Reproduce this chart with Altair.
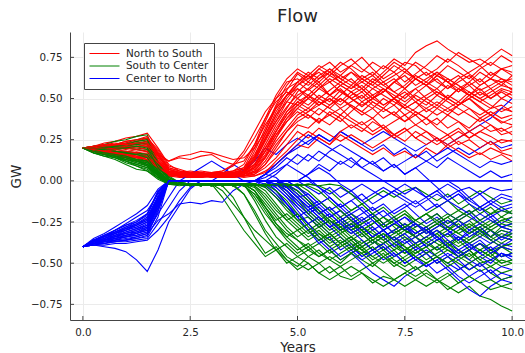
import altair as alt
import pandas as pd

TIMES = [0.0, 0.25, 0.5, 0.75, 1.0, 1.25, 1.5, 1.75, 2.0, 2.25, 2.5, 2.75, 3.0, 3.25,
         3.5, 3.75, 4.0, 4.25, 4.5, 4.75, 5.0, 5.25, 5.5, 5.75, 6.0, 6.25, 6.5, 6.75,
         7.0, 7.25, 7.5, 7.75, 8.0, 8.25, 8.5, 8.75, 9.0, 9.25, 9.5, 9.75, 10.0]

SERIES = ["North to South", "South to Center", "Center to North"]
COLORS = ["#ff0000", "#008000", "#0000ff"]

XTICKS = [0, 2.5, 5, 7.5, 10]
YTICKS = [-0.75, -0.5, -0.25, 0, 0.25, 0.5, 0.75]

RED_PATHS = [
    [0.2,0.21,0.23,0.24,0.26,0.27,0.29,0.2, 0.1,0.06,0.04,0.03,0.04,0.03,0.04,0.05, 0.12,0.25,0.38,0.5,0.58, 0.62,0.66,0.6,0.64,0.7,0.66,0.72,0.68,0.74,0.7,0.78,0.82,0.85,0.8,0.76,0.72,0.74,0.7,0.76,0.72],
    [0.2,0.19,0.18,0.17,0.16,0.15,0.13,0.08, 0.04,0.03,0.03,0.02,0.03,0.02,0.03,0.04, 0.08,0.18,0.3,0.42,0.5, 0.46,0.52,0.48,0.55,0.5,0.45,0.5,0.56,0.52,0.48,0.53,0.58,0.54,0.5,0.46,0.52,0.48,0.44,0.5,0.47],
    [0.2,0.2,0.21,0.22,0.24,0.25,0.27,0.17, 0.12,0.15,0.16,0.18,0.17,0.15,0.13,0.14, 0.2,0.3,0.45,0.55,0.65, 0.6,0.68,0.72,0.66,0.7,0.75,0.68,0.62,0.66,0.72,0.7,0.64,0.68,0.74,0.7,0.65,0.6,0.66,0.62,0.58],
    [0.2,0.18,0.17,0.15,0.14,0.13,0.12,0.07, 0.03,0.03,0.02,0.03,0.02,0.03,0.02,0.03, 0.04,0.1,0.2,0.3,0.36, 0.4,0.35,0.42,0.38,0.32,0.36,0.3,0.34,0.28,0.32,0.26,0.3,0.24,0.28,0.22,0.25,0.2,0.24,0.18,0.2],
    [0.2,0.19,0.19,0.18,0.18,0.17,0.16,0.1, 0.05,0.04,0.05,0.04,0.05,0.06,0.1,0.18, 0.3,0.42,0.5,0.56,0.6, 0.55,0.6,0.52,0.58,0.62,0.56,0.5,0.54,0.6,0.64,0.58,0.62,0.66,0.6,0.64,0.58,0.62,0.56,0.6,0.55],
    [0.2,0.18,0.16,0.15,0.13,0.12,0.1,0.05, 0.03,0.02,0.02,0.03,0.02,0.02,0.03,0.02, 0.03,0.05,0.12,0.18,0.25, 0.3,0.26,0.22,0.28,0.24,0.2,0.16,0.2,0.15,0.18,0.14,0.2,0.16,0.22,0.18,0.14,0.17,0.13,0.16,0.12],
    [0.2,0.21,0.2,0.22,0.21,0.23,0.24,0.15, 0.07,0.05,0.04,0.05,0.04,0.05,0.06,0.08, 0.16,0.28,0.4,0.48,0.46, 0.52,0.48,0.44,0.5,0.46,0.42,0.48,0.44,0.4,0.46,0.42,0.38,0.44,0.4,0.46,0.5,0.45,0.4,0.44,0.42],
    [0.2,0.19,0.17,0.16,0.15,0.14,0.15,0.09, 0.04,0.03,0.04,0.03,0.03,0.04,0.03,0.05, 0.1,0.22,0.34,0.44,0.54, 0.6,0.56,0.62,0.58,0.54,0.58,0.52,0.56,0.5,0.54,0.48,0.52,0.56,0.5,0.46,0.5,0.54,0.5,0.55,0.52],
    [0.2,0.2,0.19,0.2,0.19,0.18,0.19,0.12, 0.06,0.05,0.06,0.05,0.04,0.04,0.05,0.07, 0.14,0.26,0.36,0.45,0.52, 0.56,0.62,0.66,0.6,0.56,0.6,0.64,0.58,0.62,0.56,0.5,0.46,0.52,0.48,0.44,0.4,0.36,0.4,0.35,0.38],
    [0.2,0.18,0.18,0.16,0.17,0.15,0.14,0.08, 0.04,0.03,0.03,0.04,0.03,0.03,0.04,0.03, 0.06,0.14,0.24,0.32,0.4, 0.44,0.4,0.46,0.5,0.45,0.4,0.44,0.38,0.42,0.36,0.4,0.34,0.38,0.32,0.36,0.3,0.34,0.3,0.32,0.28],
    [0.2,0.21,0.22,0.23,0.22,0.24,0.25,0.18, 0.08,0.06,0.05,0.04,0.05,0.04,0.05,0.06, 0.18,0.32,0.46,0.58,0.66, 0.62,0.68,0.64,0.7,0.74,0.68,0.64,0.7,0.66,0.6,0.65,0.7,0.76,0.72,0.78,0.74,0.7,0.75,0.8,0.76],
    [0.2,0.19,0.18,0.18,0.17,0.16,0.17,0.1, 0.05,0.04,0.03,0.04,0.03,0.04,0.05,0.04, 0.08,0.16,0.28,0.36,0.42, 0.38,0.44,0.4,0.36,0.42,0.48,0.44,0.5,0.46,0.52,0.56,0.5,0.46,0.42,0.46,0.5,0.44,0.4,0.36,0.34],
    [0.2,0.2,0.21,0.21,0.22,0.22,0.23,0.14, 0.06,0.05,0.05,0.04,0.05,0.04,0.04,0.06, 0.1,0.2,0.3,0.4,0.48, 0.44,0.5,0.55,0.6,0.56,0.62,0.58,0.54,0.6,0.66,0.62,0.58,0.64,0.6,0.56,0.52,0.58,0.62,0.58,0.64],
    [0.2,0.18,0.17,0.16,0.14,0.13,0.12,0.07, 0.03,0.03,0.02,0.02,0.03,0.02,0.02,0.03, 0.03,0.06,0.1,0.16,0.22, 0.2,0.26,0.22,0.3,0.34,0.3,0.36,0.32,0.28,0.32,0.26,0.22,0.26,0.2,0.24,0.2,0.16,0.2,0.17,0.15],
    [0.2,0.19,0.2,0.19,0.2,0.21,0.22,0.16, 0.12,0.14,0.13,0.15,0.16,0.12,0.1,0.12, 0.22,0.34,0.44,0.52,0.6, 0.64,0.58,0.52,0.56,0.5,0.54,0.48,0.44,0.5,0.46,0.52,0.48,0.44,0.5,0.56,0.6,0.55,0.58,0.62,0.6],
    [0.2,0.19,0.18,0.17,0.16,0.16,0.15,0.09, 0.04,0.04,0.03,0.03,0.04,0.03,0.03,0.04, 0.05,0.1,0.18,0.26,0.34, 0.32,0.38,0.34,0.4,0.36,0.32,0.28,0.32,0.26,0.3,0.34,0.3,0.26,0.22,0.26,0.3,0.26,0.22,0.25,0.24],
    [0.2,0.2,0.2,0.21,0.2,0.19,0.2,0.12, 0.05,0.04,0.04,0.05,0.04,0.05,0.04,0.05, 0.12,0.24,0.36,0.48,0.56, 0.52,0.58,0.64,0.6,0.66,0.62,0.58,0.64,0.7,0.66,0.72,0.68,0.64,0.6,0.54,0.58,0.52,0.56,0.5,0.54],
    [0.2,0.19,0.19,0.18,0.17,0.17,0.16,0.09, 0.04,0.03,0.04,0.03,0.04,0.03,0.04,0.04, 0.07,0.15,0.26,0.38,0.46, 0.5,0.46,0.52,0.48,0.54,0.5,0.56,0.52,0.48,0.44,0.48,0.44,0.4,0.44,0.48,0.44,0.4,0.44,0.46,0.42],
    [0.2,0.2,0.22,0.21,0.23,0.24,0.26,0.16, 0.06,0.04,0.05,0.04,0.05,0.06,0.09,0.16, 0.26,0.38,0.48,0.54,0.5, 0.56,0.5,0.46,0.52,0.58,0.54,0.6,0.56,0.5,0.56,0.62,0.58,0.52,0.58,0.54,0.6,0.66,0.62,0.68,0.64],
    [0.2,0.18,0.17,0.17,0.15,0.14,0.13,0.08, 0.04,0.03,0.03,0.02,0.03,0.03,0.02,0.03, 0.05,0.12,0.22,0.3,0.38, 0.42,0.48,0.44,0.4,0.46,0.42,0.38,0.44,0.4,0.36,0.42,0.38,0.34,0.4,0.36,0.32,0.38,0.34,0.3,0.33],
    [0.2,0.21,0.21,0.22,0.23,0.22,0.24,0.17, 0.07,0.05,0.04,0.04,0.05,0.04,0.05,0.07, 0.15,0.3,0.44,0.52,0.58, 0.64,0.6,0.66,0.62,0.58,0.64,0.6,0.66,0.72,0.68,0.62,0.66,0.6,0.56,0.62,0.66,0.7,0.64,0.68,0.66],
    [0.2,0.19,0.18,0.18,0.16,0.15,0.15,0.1, 0.05,0.04,0.03,0.04,0.03,0.04,0.03,0.04, 0.09,0.2,0.32,0.42,0.48, 0.52,0.46,0.5,0.44,0.48,0.52,0.46,0.42,0.46,0.4,0.44,0.5,0.54,0.5,0.56,0.52,0.48,0.52,0.56,0.54],
    [0.2,0.2,0.19,0.2,0.2,0.19,0.18,0.12, 0.05,0.04,0.04,0.03,0.04,0.05,0.04,0.05, 0.1,0.18,0.28,0.38,0.44, 0.4,0.36,0.4,0.44,0.38,0.34,0.38,0.32,0.36,0.4,0.34,0.38,0.32,0.28,0.32,0.26,0.3,0.34,0.28,0.3],
    [0.2,0.21,0.22,0.22,0.24,0.25,0.26,0.19, 0.09,0.07,0.05,0.06,0.05,0.04,0.06,0.08, 0.2,0.36,0.5,0.6,0.62, 0.58,0.64,0.68,0.62,0.66,0.6,0.56,0.6,0.54,0.58,0.64,0.6,0.66,0.62,0.58,0.52,0.56,0.5,0.54,0.5],
    [0.2,0.18,0.18,0.17,0.16,0.14,0.14,0.09, 0.04,0.03,0.04,0.03,0.03,0.04,0.03,0.04, 0.06,0.14,0.26,0.36,0.44, 0.5,0.56,0.52,0.58,0.54,0.48,0.52,0.46,0.5,0.44,0.48,0.42,0.46,0.52,0.48,0.54,0.5,0.46,0.42,0.45],
    [0.2,0.19,0.2,0.2,0.21,0.2,0.21,0.13, 0.06,0.05,0.04,0.05,0.04,0.04,0.05,0.06, 0.13,0.26,0.4,0.52,0.6, 0.66,0.62,0.68,0.64,0.6,0.56,0.62,0.58,0.54,0.5,0.56,0.6,0.56,0.62,0.58,0.54,0.5,0.54,0.58,0.56],
    [0.2,0.18,0.17,0.16,0.15,0.14,0.13,0.08, 0.04,0.03,0.02,0.03,0.03,0.02,0.03,0.03, 0.04,0.08,0.14,0.22,0.3, 0.26,0.32,0.28,0.24,0.28,0.24,0.2,0.24,0.28,0.24,0.3,0.26,0.22,0.26,0.3,0.26,0.3,0.27,0.23,0.25],
    [0.2,0.2,0.21,0.2,0.21,0.21,0.22,0.15, 0.07,0.05,0.05,0.04,0.05,0.05,0.04,0.06, 0.14,0.28,0.42,0.52,0.56, 0.5,0.56,0.6,0.54,0.5,0.46,0.5,0.54,0.6,0.56,0.62,0.58,0.64,0.7,0.66,0.62,0.68,0.72,0.68,0.7],
    [0.2,0.19,0.18,0.19,0.18,0.17,0.18,0.11, 0.05,0.04,0.04,0.04,0.03,0.04,0.04,0.05, 0.08,0.18,0.3,0.4,0.46, 0.42,0.46,0.5,0.46,0.52,0.56,0.5,0.46,0.5,0.44,0.4,0.44,0.48,0.44,0.4,0.44,0.38,0.42,0.38,0.4],
    [0.2,0.2,0.21,0.22,0.22,0.23,0.23,0.16, 0.08,0.06,0.05,0.05,0.04,0.05,0.06,0.1, 0.22,0.38,0.52,0.62,0.68, 0.64,0.7,0.66,0.72,0.68,0.62,0.66,0.6,0.64,0.68,0.62,0.58,0.62,0.56,0.6,0.64,0.58,0.62,0.6,0.62],
]

GREEN_PATHS = [
    [0.2,0.19,0.17,0.15,0.13,0.11,0.09,0.03, -0.01,-0.02,-0.02,-0.03,-0.02,-0.03,-0.1,-0.22, -0.34,-0.44,-0.4,-0.48,-0.52, -0.46,-0.5,-0.56,-0.52,-0.58,-0.54,-0.5,-0.55,-0.6,-0.56,-0.52,-0.58,-0.62,-0.58,-0.54,-0.5,-0.55,-0.52,-0.56,-0.54],
    [0.2,0.21,0.22,0.24,0.25,0.27,0.28,0.12, 0.02,-0.01,-0.02,-0.02,-0.03,-0.02,-0.02,-0.03, -0.02,-0.03,-0.02,-0.08,-0.16, -0.22,-0.28,-0.24,-0.3,-0.26,-0.32,-0.28,-0.34,-0.3,-0.26,-0.3,-0.36,-0.32,-0.28,-0.32,-0.36,-0.3,-0.34,-0.28,-0.3],
    [0.2,0.18,0.16,0.14,0.11,0.09,0.06,0.01, -0.02,-0.02,-0.03,-0.02,-0.03,-0.02,-0.03,-0.02, -0.12,-0.24,-0.34,-0.4,-0.46, -0.5,-0.56,-0.52,-0.58,-0.6,-0.56,-0.62,-0.58,-0.6,-0.64,-0.6,-0.56,-0.6,-0.64,-0.68,-0.64,-0.7,-0.72,-0.76,-0.79],
    [0.2,0.19,0.18,0.17,0.16,0.14,0.12,0.04, -0.01,-0.02,-0.02,-0.02,-0.03,-0.02,-0.02,-0.03, -0.02,-0.06,-0.14,-0.22,-0.28, -0.34,-0.3,-0.36,-0.4,-0.36,-0.42,-0.38,-0.34,-0.4,-0.44,-0.4,-0.36,-0.42,-0.38,-0.44,-0.48,-0.42,-0.46,-0.4,-0.44],
    [0.2,0.2,0.2,0.21,0.22,0.23,0.22,0.1, 0.01,-0.02,-0.02,-0.03,-0.02,-0.03,-0.02,-0.02, -0.03,-0.02,-0.03,-0.02,-0.06, -0.12,-0.2,-0.16,-0.22,-0.18,-0.14,-0.2,-0.16,-0.22,-0.18,-0.24,-0.2,-0.16,-0.12,-0.18,-0.14,-0.2,-0.16,-0.22,-0.18],
    [0.2,0.18,0.17,0.15,0.14,0.12,0.1,0.04, -0.01,-0.02,-0.03,-0.02,-0.02,-0.1,-0.2,-0.3, -0.38,-0.46,-0.42,-0.5,-0.46, -0.42,-0.38,-0.44,-0.4,-0.36,-0.42,-0.48,-0.44,-0.5,-0.46,-0.42,-0.48,-0.44,-0.4,-0.46,-0.42,-0.48,-0.52,-0.48,-0.5],
    [0.2,0.19,0.19,0.18,0.18,0.17,0.15,0.06, 0.0,-0.02,-0.02,-0.02,-0.03,-0.02,-0.02,-0.03, -0.02,-0.03,-0.08,-0.16,-0.24, -0.3,-0.26,-0.32,-0.28,-0.34,-0.38,-0.34,-0.3,-0.26,-0.3,-0.34,-0.3,-0.26,-0.22,-0.28,-0.24,-0.3,-0.26,-0.22,-0.25],
    [0.2,0.17,0.15,0.13,0.1,0.07,0.06,0.02, -0.02,-0.02,-0.02,-0.03,-0.02,-0.02,-0.03,-0.02, -0.03,-0.02,-0.03,-0.02,-0.03, -0.1,-0.18,-0.26,-0.32,-0.28,-0.34,-0.3,-0.36,-0.42,-0.38,-0.34,-0.4,-0.36,-0.32,-0.38,-0.34,-0.3,-0.36,-0.32,-0.34],
    [0.2,0.2,0.21,0.22,0.23,0.25,0.26,0.11, 0.03,-0.01,-0.02,-0.02,-0.02,-0.03,-0.02,-0.02, -0.06,-0.16,-0.26,-0.32,-0.36, -0.4,-0.36,-0.32,-0.38,-0.34,-0.3,-0.36,-0.42,-0.38,-0.44,-0.4,-0.36,-0.32,-0.38,-0.34,-0.38,-0.42,-0.38,-0.34,-0.36],
    [0.2,0.19,0.17,0.16,0.15,0.13,0.11,0.05, -0.01,-0.02,-0.02,-0.02,-0.02,-0.03,-0.02,-0.03, -0.02,-0.03,-0.02,-0.04,-0.1, -0.18,-0.24,-0.3,-0.26,-0.22,-0.28,-0.34,-0.3,-0.36,-0.32,-0.28,-0.24,-0.2,-0.26,-0.22,-0.18,-0.24,-0.2,-0.16,-0.2],
    [0.2,0.18,0.16,0.15,0.12,0.1,0.08,0.03, -0.02,-0.03,-0.02,-0.03,-0.02,-0.02,-0.03,-0.08, -0.18,-0.3,-0.38,-0.46,-0.5, -0.54,-0.5,-0.46,-0.5,-0.44,-0.48,-0.52,-0.46,-0.5,-0.54,-0.58,-0.54,-0.6,-0.56,-0.62,-0.58,-0.62,-0.6,-0.64,-0.62],
    [0.2,0.19,0.19,0.19,0.2,0.2,0.19,0.08, 0.01,-0.02,-0.02,-0.03,-0.02,-0.02,-0.02,-0.03, -0.02,-0.03,-0.02,-0.03,-0.08, -0.14,-0.2,-0.26,-0.22,-0.28,-0.24,-0.2,-0.26,-0.32,-0.28,-0.34,-0.3,-0.26,-0.3,-0.24,-0.28,-0.32,-0.28,-0.24,-0.26],
    [0.2,0.18,0.17,0.16,0.14,0.13,0.1,0.04, -0.01,-0.02,-0.02,-0.02,-0.03,-0.02,-0.03,-0.02, -0.06,-0.14,-0.22,-0.3,-0.36, -0.42,-0.46,-0.42,-0.48,-0.44,-0.4,-0.36,-0.4,-0.46,-0.42,-0.38,-0.34,-0.38,-0.42,-0.46,-0.42,-0.38,-0.42,-0.4,-0.38],
    [0.2,0.21,0.21,0.22,0.22,0.23,0.24,0.1, 0.02,-0.01,-0.02,-0.02,-0.03,-0.02,-0.02,-0.02, -0.03,-0.02,-0.03,-0.02,-0.03, -0.02,-0.03,-0.06,-0.12,-0.18,-0.14,-0.1,-0.06,-0.1,-0.06,-0.04,-0.08,-0.12,-0.08,-0.14,-0.1,-0.06,-0.1,-0.14,-0.12],
    [0.2,0.19,0.18,0.16,0.14,0.12,0.09,0.03, -0.02,-0.02,-0.03,-0.02,-0.02,-0.03,-0.02,-0.02, -0.1,-0.2,-0.28,-0.34,-0.3, -0.26,-0.32,-0.36,-0.32,-0.38,-0.42,-0.46,-0.42,-0.48,-0.52,-0.48,-0.44,-0.5,-0.46,-0.5,-0.54,-0.5,-0.48,-0.52,-0.5],
    [0.2,0.19,0.18,0.18,0.17,0.16,0.15,0.06, 0.0,-0.02,-0.02,-0.03,-0.02,-0.02,-0.03,-0.02, -0.03,-0.1,-0.18,-0.24,-0.2, -0.26,-0.22,-0.28,-0.24,-0.3,-0.26,-0.22,-0.28,-0.24,-0.2,-0.26,-0.3,-0.34,-0.3,-0.26,-0.32,-0.28,-0.34,-0.38,-0.34],
    [0.2,0.17,0.16,0.14,0.12,0.09,0.07,0.02, -0.02,-0.02,-0.03,-0.02,-0.02,-0.02,-0.03,-0.02, -0.02,-0.03,-0.02,-0.03,-0.06, -0.12,-0.18,-0.24,-0.3,-0.36,-0.32,-0.38,-0.34,-0.3,-0.36,-0.32,-0.28,-0.34,-0.4,-0.36,-0.42,-0.38,-0.44,-0.4,-0.42],
    [0.2,0.2,0.2,0.19,0.2,0.19,0.18,0.07, 0.0,-0.02,-0.02,-0.02,-0.03,-0.02,-0.02,-0.03, -0.08,-0.18,-0.28,-0.36,-0.42, -0.38,-0.44,-0.48,-0.44,-0.4,-0.36,-0.42,-0.38,-0.34,-0.4,-0.46,-0.5,-0.46,-0.52,-0.48,-0.44,-0.5,-0.56,-0.6,-0.58],
    [0.2,0.19,0.18,0.17,0.15,0.13,0.12,0.05, -0.01,-0.02,-0.02,-0.03,-0.02,-0.02,-0.03,-0.02, -0.04,-0.12,-0.2,-0.28,-0.34, -0.3,-0.36,-0.32,-0.38,-0.34,-0.4,-0.36,-0.32,-0.36,-0.4,-0.44,-0.4,-0.36,-0.4,-0.34,-0.38,-0.34,-0.3,-0.34,-0.32],
    [0.2,0.2,0.2,0.2,0.21,0.21,0.21,0.09, 0.01,-0.02,-0.02,-0.02,-0.03,-0.02,-0.02,-0.02, -0.02,-0.03,-0.02,-0.03,-0.02, -0.06,-0.12,-0.18,-0.24,-0.2,-0.26,-0.22,-0.28,-0.24,-0.2,-0.24,-0.2,-0.26,-0.22,-0.18,-0.22,-0.26,-0.3,-0.26,-0.28],
    [0.2,0.18,0.17,0.15,0.13,0.11,0.09,0.03, -0.02,-0.02,-0.02,-0.03,-0.02,-0.06,-0.14,-0.22, -0.3,-0.36,-0.42,-0.38,-0.44, -0.4,-0.46,-0.42,-0.38,-0.44,-0.4,-0.46,-0.5,-0.46,-0.42,-0.46,-0.5,-0.46,-0.42,-0.46,-0.42,-0.38,-0.42,-0.46,-0.44],
    [0.2,0.19,0.19,0.18,0.17,0.17,0.16,0.06, 0.0,-0.02,-0.02,-0.03,-0.02,-0.02,-0.02,-0.03, -0.02,-0.04,-0.1,-0.18,-0.24, -0.22,-0.28,-0.34,-0.3,-0.26,-0.3,-0.26,-0.22,-0.28,-0.34,-0.38,-0.34,-0.3,-0.34,-0.3,-0.26,-0.3,-0.34,-0.3,-0.32],
    [0.2,0.2,0.21,0.21,0.22,0.24,0.25,0.11, 0.02,-0.01,-0.02,-0.02,-0.02,-0.03,-0.02,-0.02, -0.03,-0.08,-0.16,-0.24,-0.3, -0.36,-0.32,-0.38,-0.34,-0.4,-0.44,-0.4,-0.46,-0.42,-0.48,-0.44,-0.4,-0.46,-0.5,-0.46,-0.5,-0.46,-0.42,-0.46,-0.44],
    [0.2,0.18,0.16,0.15,0.13,0.12,0.1,0.04, -0.01,-0.02,-0.03,-0.02,-0.02,-0.02,-0.03,-0.02, -0.02,-0.03,-0.02,-0.06,-0.12, -0.2,-0.26,-0.22,-0.28,-0.24,-0.3,-0.26,-0.22,-0.26,-0.3,-0.26,-0.32,-0.28,-0.24,-0.28,-0.32,-0.28,-0.24,-0.28,-0.26],
    [0.2,0.19,0.17,0.16,0.14,0.12,0.11,0.04, -0.01,-0.02,-0.02,-0.02,-0.03,-0.02,-0.02,-0.08, -0.2,-0.32,-0.42,-0.48,-0.54, -0.5,-0.56,-0.6,-0.56,-0.52,-0.56,-0.6,-0.64,-0.6,-0.56,-0.6,-0.64,-0.6,-0.66,-0.62,-0.58,-0.62,-0.66,-0.64,-0.66],
    [0.2,0.2,0.2,0.21,0.21,0.22,0.23,0.1, 0.01,-0.02,-0.02,-0.02,-0.02,-0.03,-0.02,-0.02, -0.02,-0.03,-0.02,-0.03,-0.02, -0.03,-0.06,-0.12,-0.18,-0.24,-0.3,-0.36,-0.32,-0.38,-0.42,-0.38,-0.44,-0.4,-0.36,-0.4,-0.36,-0.32,-0.36,-0.4,-0.38],
    [0.2,0.18,0.17,0.16,0.15,0.13,0.12,0.05, -0.01,-0.02,-0.02,-0.03,-0.02,-0.02,-0.02,-0.03, -0.08,-0.16,-0.24,-0.2,-0.26, -0.32,-0.28,-0.24,-0.28,-0.32,-0.28,-0.32,-0.36,-0.32,-0.28,-0.24,-0.28,-0.24,-0.2,-0.24,-0.2,-0.16,-0.2,-0.18,-0.2],
    [0.2,0.19,0.19,0.18,0.17,0.16,0.14,0.05, 0.0,-0.02,-0.02,-0.02,-0.03,-0.02,-0.02,-0.02, -0.03,-0.02,-0.06,-0.12,-0.2, -0.28,-0.34,-0.4,-0.36,-0.42,-0.38,-0.34,-0.38,-0.34,-0.3,-0.34,-0.38,-0.42,-0.38,-0.42,-0.46,-0.42,-0.46,-0.5,-0.48],
    [0.2,0.2,0.21,0.2,0.2,0.21,0.2,0.08, 0.01,-0.02,-0.02,-0.02,-0.02,-0.02,-0.03,-0.02, -0.02,-0.03,-0.02,-0.02,-0.03, -0.02,-0.03,-0.02,-0.03,-0.08,-0.14,-0.2,-0.26,-0.22,-0.28,-0.24,-0.2,-0.24,-0.28,-0.32,-0.28,-0.24,-0.28,-0.24,-0.22],
    [0.2,0.17,0.15,0.14,0.12,0.1,0.08,0.02, -0.02,-0.02,-0.03,-0.02,-0.02,-0.03,-0.02,-0.02, -0.06,-0.16,-0.26,-0.34,-0.4, -0.46,-0.42,-0.48,-0.52,-0.48,-0.44,-0.5,-0.46,-0.52,-0.48,-0.54,-0.5,-0.46,-0.5,-0.46,-0.42,-0.48,-0.44,-0.5,-0.48],
]

BLUE_PATHS = [
    [-0.4,-0.36,-0.33,-0.3,-0.26,-0.22,-0.18,-0.08, 0,0,0,0,0,0,0,0, 0,0,0,0,0, 0,0,0,0,0,0,0,0,0,0,0,0,0,0,0,0,0,0,0,0],
    [-0.4,-0.38,-0.36,-0.34,-0.33,-0.32,-0.3,-0.14, 0,0,0,0,0,0.04,0.1,0.06, 0.12,0.2,0.16,0.22,0.26, 0.22,0.28,0.24,0.3,0.26,0.22,0.18,0.22,0.16,0.2,0.14,0.18,0.12,0.16,0.2,0.16,0.2,0.24,0.2,0.22],
    [-0.4,-0.39,-0.4,-0.41,-0.43,-0.48,-0.55,-0.42, -0.25,-0.15,-0.05,0,0,0,0,0, 0,0,-0.06,-0.14,-0.22, -0.3,-0.36,-0.42,-0.48,-0.44,-0.5,-0.56,-0.6,-0.64,-0.58,-0.54,-0.5,-0.56,-0.52,-0.58,-0.62,-0.58,-0.54,-0.6,-0.58],
    [-0.4,-0.35,-0.32,-0.28,-0.24,-0.2,-0.15,-0.05, 0,0,0,0,0,0,0,0, 0,-0.04,-0.1,-0.16,-0.22, -0.18,-0.24,-0.2,-0.26,-0.3,-0.26,-0.22,-0.28,-0.24,-0.3,-0.34,-0.3,-0.26,-0.3,-0.34,-0.38,-0.34,-0.3,-0.36,-0.32],
    [-0.4,-0.37,-0.35,-0.32,-0.29,-0.27,-0.23,-0.1, 0,0,0,0,0,0,0,0, 0,0,0,0,-0.04, -0.08,-0.14,-0.1,-0.16,-0.12,-0.08,-0.14,-0.1,-0.06,-0.1,-0.14,-0.1,-0.16,-0.12,-0.08,-0.12,-0.16,-0.12,-0.08,-0.1],
    [-0.4,-0.38,-0.37,-0.36,-0.36,-0.34,-0.32,-0.24, -0.2,-0.14,-0.13,-0.14,-0.12,-0.13,-0.06,-0.02, 0,0,0,-0.06,-0.14, -0.2,-0.26,-0.32,-0.38,-0.34,-0.4,-0.36,-0.42,-0.38,-0.34,-0.4,-0.44,-0.4,-0.46,-0.42,-0.48,-0.52,-0.48,-0.44,-0.46],
    [-0.4,-0.36,-0.34,-0.3,-0.27,-0.25,-0.2,-0.06, 0,0,0,0,0,0,0,0, 0,0.04,0.1,0.16,0.2, 0.24,0.28,0.24,0.3,0.26,0.22,0.26,0.3,0.26,0.22,0.18,0.22,0.26,0.22,0.26,0.3,0.34,0.38,0.44,0.5],
    [-0.4,-0.39,-0.38,-0.37,-0.36,-0.35,-0.33,-0.18, 0,0,0,0,0,0,0,0, 0,0,-0.02,-0.08,-0.14, -0.2,-0.16,-0.22,-0.18,-0.24,-0.28,-0.24,-0.3,-0.26,-0.22,-0.28,-0.24,-0.2,-0.26,-0.22,-0.18,-0.24,-0.2,-0.26,-0.22],
    [-0.4,-0.37,-0.36,-0.33,-0.3,-0.28,-0.25,-0.12, 0,0,0.04,0.08,0.12,0.08,0.04,0, 0,0,0,0,0, 0,0,0,0,0,0,0,0,0,0,0,0,0,0,0,0,0,0,0,0],
    [-0.4,-0.38,-0.36,-0.35,-0.34,-0.33,-0.31,-0.2, -0.1,0,0,0,0,0,0,0, 0,0,-0.06,-0.14,-0.22, -0.3,-0.38,-0.34,-0.42,-0.38,-0.46,-0.42,-0.38,-0.44,-0.5,-0.46,-0.52,-0.48,-0.54,-0.6,-0.66,-0.7,-0.64,-0.6,-0.62],
    [-0.4,-0.36,-0.33,-0.31,-0.28,-0.26,-0.22,-0.09, 0,0,0,0,0,0,0,0, 0,0,0,0,0, 0.04,0.1,0.06,0.12,0.08,0.14,0.1,0.06,0.1,0.04,0.08,0.12,0.08,0.14,0.1,0.06,0.02,0.06,0.02,0.04],
    [-0.4,-0.39,-0.39,-0.38,-0.38,-0.37,-0.36,-0.3, -0.22,-0.12,-0.04,0,0,0,0,0, 0,0,0,-0.04,-0.1, -0.16,-0.12,-0.18,-0.14,-0.2,-0.24,-0.3,-0.26,-0.32,-0.28,-0.34,-0.3,-0.36,-0.32,-0.28,-0.34,-0.3,-0.36,-0.4,-0.36],
    [-0.4,-0.37,-0.35,-0.33,-0.31,-0.29,-0.26,-0.12, 0,0,0,0,0,0,0,0, 0,0,0,-0.02,-0.06, -0.12,-0.18,-0.24,-0.3,-0.26,-0.32,-0.38,-0.34,-0.4,-0.36,-0.42,-0.38,-0.34,-0.4,-0.44,-0.4,-0.36,-0.42,-0.38,-0.4],
    [-0.4,-0.38,-0.37,-0.35,-0.33,-0.32,-0.29,-0.16, 0,0,0,0,0,0,0,0, 0,0,0,0,0, 0,-0.04,-0.08,-0.04,-0.08,-0.12,-0.08,-0.04,-0.08,-0.12,-0.16,-0.12,-0.08,-0.12,-0.16,-0.2,-0.16,-0.12,-0.16,-0.14],
    [-0.4,-0.36,-0.34,-0.32,-0.29,-0.27,-0.24,-0.1, 0,0,0,0,0,0,0,0, 0,0.02,0.06,0.1,0.06, 0.02,-0.04,-0.1,-0.16,-0.22,-0.28,-0.34,-0.3,-0.36,-0.42,-0.48,-0.44,-0.5,-0.46,-0.52,-0.58,-0.54,-0.6,-0.56,-0.58],
    [-0.4,-0.38,-0.36,-0.34,-0.32,-0.3,-0.28,-0.14, 0,0,0,0,0,0,0,0, 0,0,0,0,-0.04, -0.1,-0.16,-0.22,-0.18,-0.24,-0.2,-0.16,-0.22,-0.18,-0.14,-0.2,-0.26,-0.22,-0.28,-0.24,-0.3,-0.26,-0.3,-0.34,-0.3],
    [-0.4,-0.37,-0.34,-0.31,-0.28,-0.25,-0.21,-0.07, 0,0,0,0,0,0,0,0, 0,0.04,0.02,-0.04,-0.1, -0.16,-0.22,-0.28,-0.34,-0.4,-0.46,-0.42,-0.48,-0.44,-0.5,-0.46,-0.42,-0.46,-0.5,-0.54,-0.5,-0.46,-0.5,-0.44,-0.48],
    [-0.4,-0.38,-0.37,-0.37,-0.36,-0.35,-0.34,-0.22, 0,0,0,0,0,0,0,0, 0,0,0.04,0.1,0.16, 0.12,0.18,0.14,0.1,0.14,0.08,0.12,0.06,0.1,0.04,0.08,0.02,-0.04,-0.1,-0.06,-0.12,-0.08,-0.14,-0.1,-0.12],
    [-0.4,-0.37,-0.35,-0.32,-0.3,-0.27,-0.24,-0.11, 0,0,0,0,0,0,0,0, 0,0,-0.04,-0.1,-0.16, -0.22,-0.28,-0.24,-0.3,-0.26,-0.22,-0.28,-0.34,-0.3,-0.26,-0.32,-0.28,-0.24,-0.3,-0.36,-0.32,-0.28,-0.34,-0.3,-0.32],
    [-0.4,-0.38,-0.37,-0.36,-0.34,-0.33,-0.31,-0.17, 0,0,0,0,0,0,0,0, 0,0,0,0,0, -0.04,-0.08,-0.04,-0.1,-0.06,-0.12,-0.18,-0.14,-0.2,-0.16,-0.12,-0.18,-0.14,-0.2,-0.24,-0.2,-0.26,-0.22,-0.18,-0.2],
    [-0.4,-0.36,-0.34,-0.31,-0.29,-0.26,-0.23,-0.1, 0,0,0,0,0,0,0,0, 0,0,0,-0.04,-0.1, -0.16,-0.22,-0.28,-0.24,-0.3,-0.36,-0.42,-0.38,-0.34,-0.38,-0.34,-0.4,-0.36,-0.32,-0.36,-0.3,-0.34,-0.38,-0.34,-0.36],
    [-0.4,-0.39,-0.38,-0.36,-0.35,-0.34,-0.32,-0.19, 0,0,0,0,0,0,0,0, 0,0.04,0.08,0.14,0.1, 0.16,0.12,0.18,0.22,0.18,0.14,0.1,0.14,0.08,0.12,0.16,0.12,0.16,0.2,0.16,0.12,0.08,0.12,0.1,0.12],
    [-0.4,-0.37,-0.36,-0.34,-0.31,-0.29,-0.27,-0.13, 0,0,0,0,0,0,0,0, 0,0,0,-0.02,-0.08, -0.14,-0.2,-0.16,-0.22,-0.28,-0.24,-0.2,-0.26,-0.22,-0.28,-0.32,-0.28,-0.34,-0.38,-0.34,-0.4,-0.44,-0.4,-0.46,-0.44],
    [-0.4,-0.38,-0.38,-0.37,-0.37,-0.36,-0.35,-0.26, -0.16,-0.06,0,0,0,0,0,0, 0,0,-0.04,-0.1,-0.18, -0.26,-0.34,-0.4,-0.46,-0.42,-0.48,-0.44,-0.4,-0.46,-0.42,-0.48,-0.52,-0.48,-0.44,-0.48,-0.54,-0.5,-0.56,-0.52,-0.54],
    [-0.4,-0.36,-0.33,-0.3,-0.27,-0.24,-0.2,-0.07, 0,0,0,0,0,0,0,0, 0,0,0,0,0, 0.04,0.08,0.04,-0.02,-0.06,-0.02,-0.06,-0.1,-0.06,-0.02,-0.06,-0.1,-0.06,-0.02,-0.06,-0.04,-0.08,-0.04,-0.06,-0.05],
    [-0.4,-0.38,-0.36,-0.35,-0.33,-0.31,-0.29,-0.15, 0,0,0,0,0,0,0,0, 0,-0.02,-0.08,-0.14,-0.2, -0.26,-0.22,-0.28,-0.24,-0.2,-0.16,-0.22,-0.18,-0.24,-0.3,-0.26,-0.32,-0.28,-0.24,-0.28,-0.24,-0.2,-0.24,-0.28,-0.26],
    [-0.4,-0.37,-0.35,-0.33,-0.32,-0.3,-0.27,-0.13, 0,0,0,0,0,0,0,0, 0,0,0,0,0, 0,0,0,0,0,0,0,0,0,0,0,0,0,0,-0.04,-0.1,-0.16,-0.22,-0.28,-0.3],
    [-0.4,-0.38,-0.37,-0.35,-0.34,-0.32,-0.3,-0.16, 0,0,0,0,0,0,0,0, 0,0,0,-0.04,-0.1, -0.08,-0.14,-0.1,-0.16,-0.12,-0.18,-0.24,-0.3,-0.36,-0.32,-0.38,-0.34,-0.3,-0.36,-0.42,-0.38,-0.44,-0.48,-0.44,-0.46],
    [-0.4,-0.36,-0.34,-0.32,-0.3,-0.28,-0.25,-0.11, 0,0,0,0,0,0,0,0, 0,0.04,0.1,0.16,0.22, 0.28,0.24,0.2,0.16,0.12,0.08,0.04,0.0,-0.04,-0.08,-0.04,-0.1,-0.06,-0.12,-0.08,-0.14,-0.18,-0.14,-0.18,-0.16],
    [-0.4,-0.37,-0.36,-0.34,-0.32,-0.31,-0.28,-0.14, 0,0,0,0,0,0,0,0, 0,0,-0.02,-0.06,-0.12, -0.18,-0.14,-0.2,-0.26,-0.32,-0.28,-0.34,-0.3,-0.26,-0.22,-0.26,-0.3,-0.34,-0.4,-0.46,-0.42,-0.38,-0.44,-0.4,-0.42],
]

rows = []
groups = [RED_PATHS, GREEN_PATHS, BLUE_PATHS]
n = max(len(g) for g in groups)
for k in range(n):
    for s, g in enumerate(groups):
        if k < len(g):
            pid = f"{s}-{k:02d}"
            for t, v in zip(TIMES, g[k]):
                rows.append({"t": t, "v": v, "series": SERIES[s], "path": pid})
df = pd.DataFrame(rows)

FONT = "DejaVu Sans"
INK = "#262626"

xscale = alt.Scale(domain=[-0.3, 10.3], nice=False, zero=False)
yscale = alt.Scale(domain=[-0.845, 0.904], nice=False, zero=False)

lines = alt.Chart(df).mark_line(strokeWidth=1.1, clip=True).encode(
    x=alt.X("t:Q", scale=xscale,
            axis=alt.Axis(values=XTICKS, format=".1f", title="Years",
                          labelPadding=7, titleY=31, titleBaseline="alphabetic")),
    y=alt.Y("v:Q", scale=yscale,
            axis=alt.Axis(values=YTICKS, format=".2f", title="GW",
                          labelPadding=8, titleX=-54, titleY=144,
                          titleBaseline="middle", titleAlign="center")),
    color=alt.Color("series:N", scale=alt.Scale(domain=SERIES, range=COLORS),
                    legend=alt.Legend(title=None, orient="none", legendX=14, legendY=11,
                                      symbolType="M-3,0L3,0", symbolSize=100,
                                      symbolStrokeWidth=1, symbolOffset=10,
                                      labelOffset=16, labelFont=FONT, labelFontSize=10.4,
                                      labelColor=INK, padding=5, strokeColor="#444",
                                      fillColor="white", rowPadding=1.5, cornerRadius=0)),
    detail="path:N",
)

xt = alt.Chart(pd.DataFrame({"t": XTICKS})).mark_rule(color="#444", strokeWidth=1).encode(
    x="t:Q", y=alt.value(288), y2=alt.value(284))
yt = alt.Chart(pd.DataFrame({"v": YTICKS})).mark_rule(color="#444", strokeWidth=1).encode(
    y="v:Q", x=alt.value(0), x2=alt.value(4))

chart = alt.layer(lines, xt, yt).properties(
    width=455, height=288,
    title=alt.TitleParams("Flow", font=FONT, fontSize=18, fontWeight="normal",
                          color=INK, offset=10, dy=18, baseline="alphabetic", anchor="middle"),
    padding={"left": 70, "top": 32, "right": 0, "bottom": 33},
    autosize=alt.AutoSizeParams(type="none"),
).configure_view(strokeWidth=0).configure_axis(
    domainColor="#444", domainWidth=1, ticks=False,
    labelFont=FONT, labelFontSize=10.3, labelColor=INK,
    titleFont=FONT, titleFontSize=13.5, titleFontWeight="normal", titleColor=INK,
    gridColor="#ebebeb", gridWidth=1,
)

chart.save("out.html", embed_options={"renderer": "svg", "actions": False})
